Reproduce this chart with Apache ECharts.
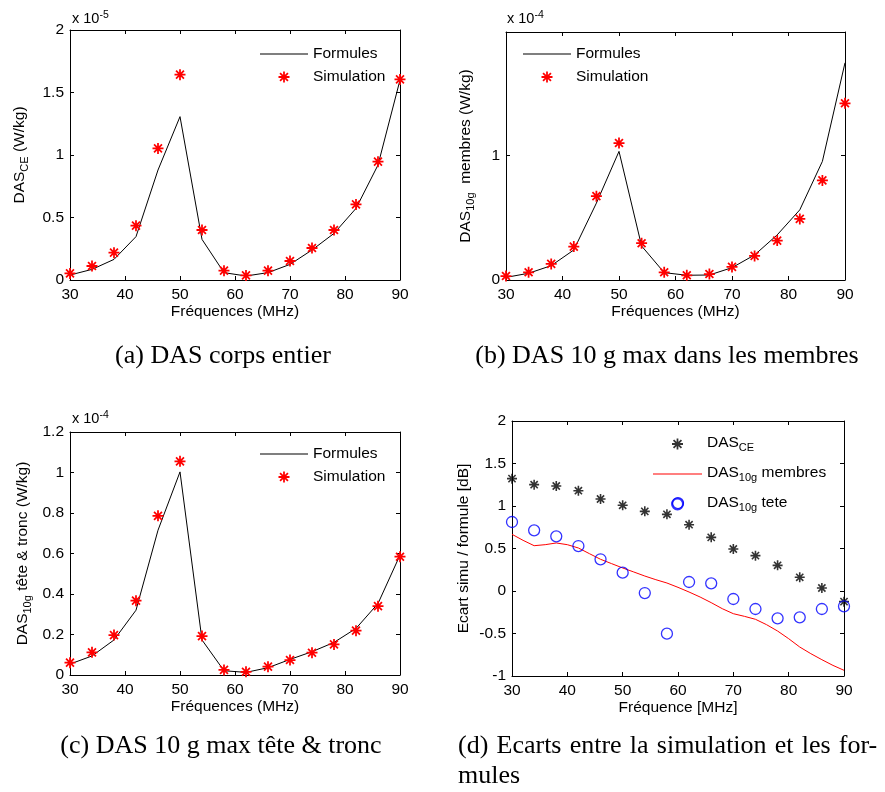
<!DOCTYPE html>
<html>
<head>
  <meta charset="utf-8">
</head>
<body style="margin: 0">
  <div id="container" style="width: 885px; height: 792px"></div>
  <script src="https://cdn.jsdelivr.net/npm/echarts@6/dist/echarts.min.js"></script>
  <script>
    // frequencies (MHz) of the computed points
    let freq = [30, 34, 38, 42, 46, 50, 54, 58, 62, 66, 70, 74, 78, 82, 86, 90];

    // (a) DAS corps entier, in 1e-5 W/kg
    let ceFormules = [0.04, 0.085, 0.165, 0.347, 0.88, 1.307, 0.325, 0.059, 0.032, 0.059, 0.125, 0.24, 0.373, 0.573, 0.92, 1.6];
    let ceSimulation = [0.053, 0.112, 0.219, 0.435, 1.053, 1.643, 0.40, 0.075, 0.037, 0.075, 0.152, 0.256, 0.40, 0.605, 0.947, 1.605];

    // (b) DAS 10g membres, in 1e-4 W/kg
    let memFormules = [0.021, 0.054, 0.115, 0.241, 0.617, 1.032, 0.273, 0.059, 0.038, 0.04, 0.099, 0.201, 0.362, 0.563, 0.952, 1.743];
    let memSimulation = [0.032, 0.062, 0.129, 0.268, 0.673, 1.099, 0.295, 0.062, 0.038, 0.048, 0.105, 0.193, 0.316, 0.49, 0.799, 1.418];

    // (c) DAS 10g tete & tronc, in 1e-4 W/kg
    let troncFormules = [0.054, 0.094, 0.173, 0.32, 0.715, 1.003, 0.173, 0.021, 0.013, 0.036, 0.077, 0.115, 0.161, 0.23, 0.353, 0.592];
    let troncSimulation = [0.061, 0.112, 0.197, 0.367, 0.786, 1.055, 0.192, 0.025, 0.016, 0.041, 0.074, 0.11, 0.151, 0.219, 0.34, 0.584];

    // (d) ecarts simu / formule [dB]
    let ecartCE = [1.322, 1.251, 1.235, 1.18, 1.082, 1.008, 0.937, 0.902, 0.78, 0.631, 0.494, 0.416, 0.302, 0.161, 0.035, -0.125];
    let freqTete = [30, 34, 38, 42, 46, 50, 54, 58, 60, 62, 66, 70, 74, 78, 82, 86, 90];
    let ecartTete = [0.812, 0.714, 0.643, 0.529, 0.373, 0.216, -0.024, -0.502, 1.035, 0.106, 0.09, -0.094, -0.212, -0.322, -0.31, -0.212, -0.18];
    let freqMembres = [30, 32, 34, 36, 38, 40, 42, 44, 46, 48, 50, 52, 54, 56, 58, 60, 62, 64, 66, 68, 70, 72, 74, 76, 78, 80, 82, 84, 86, 88, 90];
    let ecartMembres = [0.667, 0.596, 0.533, 0.545, 0.565, 0.545, 0.506, 0.439, 0.373, 0.322, 0.271, 0.224, 0.176, 0.133, 0.094, 0.043, -0.012, -0.071, -0.137, -0.208, -0.267, -0.298, -0.333, -0.396, -0.471, -0.561, -0.659, -0.737, -0.808, -0.875, -0.933];

    let captions = [
      '(a) DAS corps entier',
      '(b) DAS 10 g max dans les membres',
      '(c) DAS 10 g max tête & tronc',
      '(d) Ecarts entre la simulation et les for-',
      'mules'
    ];

    const FONT = 'Liberation Sans';
    const SERIF = 'Liberation Serif';
    const FS = 15.5;

    // matlab style '*' marker, filled thin arms
    const STAR = 'path://M-0.8,-5h1.6v10h-1.6zM-5,-0.8h10v1.6h-10z' +
      'M-3.03,-4.16L4.16,3.03L3.03,4.16L-4.16,-3.03z' +
      'M-4.16,3.03L3.03,-4.16L4.16,-3.03L-3.03,4.16z';
    // plain line for legend entries of line series
    const LINE_ICON = 'path://M0,0h48v1h-48z';

    let dom = document.getElementById('container');
    let myChart = echarts.init(dom, null, { renderer: 'canvas' });

    let richSub = {
      n: { fontFamily: FONT, fontSize: FS, color: '#000', lineHeight: 18, verticalAlign: 'top' },
      s: { fontFamily: FONT, fontSize: 11, color: '#000', lineHeight: 12, padding: [10, 0, 0, 0], verticalAlign: 'bottom' }
    };
    let richSup = {
      n: { fontFamily: FONT, fontSize: 14.5, color: '#000', lineHeight: 16, verticalAlign: 'bottom' },
      p: { fontFamily: FONT, fontSize: 10.5, color: '#000', lineHeight: 11, padding: [0, 0, 9.5, 0], verticalAlign: 'top' }
    };
    let richCap = {
      t: { fontFamily: SERIF, fontSize: 26, color: '#000' },
      g: { fontFamily: SERIF, fontSize: 26, color: '#000', padding: [0, 1.7, 0, 0] }
    };

    let grids = [
      { left: 70, top: 30, width: 330, height: 250 },
      { left: 506, top: 32, width: 339, height: 248 },
      { left: 70, top: 432, width: 330, height: 243 },
      { left: 512, top: 421, width: 332, height: 255 }
    ];

    let lineStyleBlack = { color: '#000', width: 1 };

    function xAxes(g, name) {
      return [{
        gridIndex: g, type: 'value', min: 30, max: 90, interval: 10,
        name: name, nameLocation: 'middle', nameGap: 24,
        nameTextStyle: { fontFamily: FONT, fontSize: FS, color: '#000' },
        axisLine: { show: true, onZero: false, lineStyle: lineStyleBlack },
        axisTick: { show: true, inside: true, length: 4, lineStyle: lineStyleBlack },
        axisLabel: { color: '#000', fontFamily: FONT, fontSize: FS, margin: 7 },
        splitLine: { show: false }
      }, {
        gridIndex: g, type: 'value', position: 'top', min: 30, max: 90, interval: 10,
        axisLine: { show: true, onZero: false, lineStyle: lineStyleBlack },
        axisTick: { show: true, inside: true, length: 4, lineStyle: lineStyleBlack },
        axisLabel: { show: false },
        splitLine: { show: false }
      }];
    }

    function yAxes(g, min, max, interval, name, gap) {
      return [{
        gridIndex: g, type: 'value', min: min, max: max, interval: interval,
        name: name, nameLocation: 'middle', nameGap: gap, nameRotate: 90,
        nameTextStyle: { fontFamily: FONT, fontSize: FS, color: '#000', rich: richSub },
        axisLine: { show: true, onZero: false, lineStyle: lineStyleBlack },
        axisTick: { show: true, inside: true, length: 4, lineStyle: lineStyleBlack },
        axisLabel: { color: '#000', fontFamily: FONT, fontSize: FS, margin: 6, showMaxLabel: max !== 1.99 },
        splitLine: { show: false }
      }, {
        gridIndex: g, type: 'value', position: 'right', min: min, max: max, interval: interval,
        axisLine: { show: true, onZero: false, lineStyle: lineStyleBlack },
        axisTick: { show: true, inside: true, length: 4, lineStyle: lineStyleBlack },
        axisLabel: { show: false },
        splitLine: { show: false }
      }];
    }

    function pairs(xs, ys) {
      return xs.map(function (x, i) { return [x, ys[i]]; });
    }

    function formLine(g, ys) {
      return {
        name: 'Formules', type: 'line', xAxisIndex: 2 * g, yAxisIndex: 2 * g,
        data: pairs(freq, ys), symbol: 'none', silent: true,
        lineStyle: { color: '#000', width: 1 }, itemStyle: { color: '#000' }
      };
    }
    function simStars(g, ys) {
      return {
        name: 'Simulation', type: 'scatter', xAxisIndex: 2 * g, yAxisIndex: 2 * g,
        data: pairs(freq, ys), symbol: STAR, symbolSize: 11, symbolKeepAspect: true,
        silent: true, z: 3,
        itemStyle: { color: '#ff0000', opacity: 1 }
      };
    }

    function legendAB(left, top) {
      return {
        data: [{ name: 'Formules', icon: LINE_ICON }, 'Simulation'],
        left: left, top: top, orient: 'vertical',
        itemWidth: 48, itemHeight: 11, itemGap: 5, padding: 0, selectedMode: false,
        symbolKeepAspect: true,
        textStyle: { fontFamily: FONT, fontSize: FS, color: '#000', lineHeight: 18 }
      };
    }

    let legendNames = {
      'DAS CE': '{n|DAS}{s|CE}',
      'DAS 10g membres': '{n|DAS}{s|10g}{n| membres}',
      'DAS 10g tete': '{n|DAS}{s|10g}{n| tete}'
    };

    // justified first line of caption (d): widen the spaces a little
    function spread(text) {
      return text.split(' ').map(function (w) {
        return '{t|' + w + '}';
      }).join('{g| }');
    }

    function caption(text, x, y, align) {
      return {
        type: 'text', x: x, y: y,
        style: {
          text: text, fontFamily: SERIF, fontSize: 26, fill: '#000', rich: richCap,
          align: align, verticalAlign: 'middle', textAlign: align, textVerticalAlign: 'middle'
        }
      };
    }

    let option = {
      animation: false,
      backgroundColor: '#fff',
      grid: grids,
      xAxis: [].concat(
        xAxes(0, 'Fréquences (MHz)'), xAxes(1, 'Fréquences (MHz)'),
        xAxes(2, 'Fréquences (MHz)'), xAxes(3, 'Fréquence [MHz]')
      ),
      yAxis: [].concat(
        yAxes(0, 0, 2, 0.5, '{n|DAS}{s|CE}{n| (W/kg)}', 40),
        yAxes(1, 0, 1.99, 1, '{n|DAS}{s|10g}{n|  membres (W/kg)}', 30),
        yAxes(2, 0, 1.2, 0.2, '{n|DAS}{s|10g}{n| tête & tronc (W/kg)}', 37),
        yAxes(3, -1, 2, 0.5, 'Ecart simu / formule [dB]', 40)
      ),
      legend: [
        legendAB(260, 45),
        legendAB(523, 45),
        legendAB(260, 445),
        {
          data: ['DAS CE', { name: 'DAS 10g membres', icon: LINE_ICON }, 'DAS 10g tete'],
          left: 653, top: 432, orient: 'vertical',
          itemWidth: 49, itemHeight: 11, itemGap: 9, padding: 0, selectedMode: false,
          symbolKeepAspect: true,
          formatter: function (name) { return legendNames[name]; },
          textStyle: { fontFamily: FONT, fontSize: FS, color: '#000', rich: richSub }
        }
      ],
      series: [
        formLine(0, ceFormules), simStars(0, ceSimulation),
        formLine(1, memFormules), simStars(1, memSimulation),
        formLine(2, troncFormules), simStars(2, troncSimulation),
        {
          name: 'DAS CE', type: 'scatter', xAxisIndex: 6, yAxisIndex: 6,
          data: pairs(freq, ecartCE), symbol: STAR, symbolSize: 10, symbolKeepAspect: true,
          silent: true, z: 3, itemStyle: { color: '#000' }
        },
        {
          name: 'DAS 10g membres', type: 'line', xAxisIndex: 6, yAxisIndex: 6,
          data: pairs(freqMembres, ecartMembres), symbol: 'none', silent: true,
          lineStyle: { color: '#ff0000', width: 1 }, itemStyle: { color: '#ff0000' }
        },
        {
          name: 'DAS 10g tete', type: 'scatter', xAxisIndex: 6, yAxisIndex: 6,
          data: pairs(freqTete, ecartTete), symbol: 'circle', symbolSize: 11,
          silent: true, z: 3,
          itemStyle: { color: 'rgba(0,0,0,0)', borderColor: '#0000ff', borderWidth: 1.3 }
        }
      ],
      graphic: {
        elements: [
          { type: 'text', x: 72, y: 10, style: { text: '{n|x 10}{p|-5}', rich: richSup } },
          { type: 'text', x: 507, y: 10, style: { text: '{n|x 10}{p|-4}', rich: richSup } },
          { type: 'text', x: 72, y: 410, style: { text: '{n|x 10}{p|-4}', rich: richSup } },
          caption('{t|' + captions[0] + '}', 223, 356, 'center'),
          caption('{t|' + captions[1] + '}', 667, 356, 'center'),
          caption('{t|' + captions[2] + '}', 221, 746, 'center'),
          caption(spread(captions[3]), 458, 746, 'left'),
          caption('{t|' + captions[4] + '}', 458, 776, 'left')
        ]
      }
    };

    myChart.setOption(option);
  </script>
</body>
</html>
